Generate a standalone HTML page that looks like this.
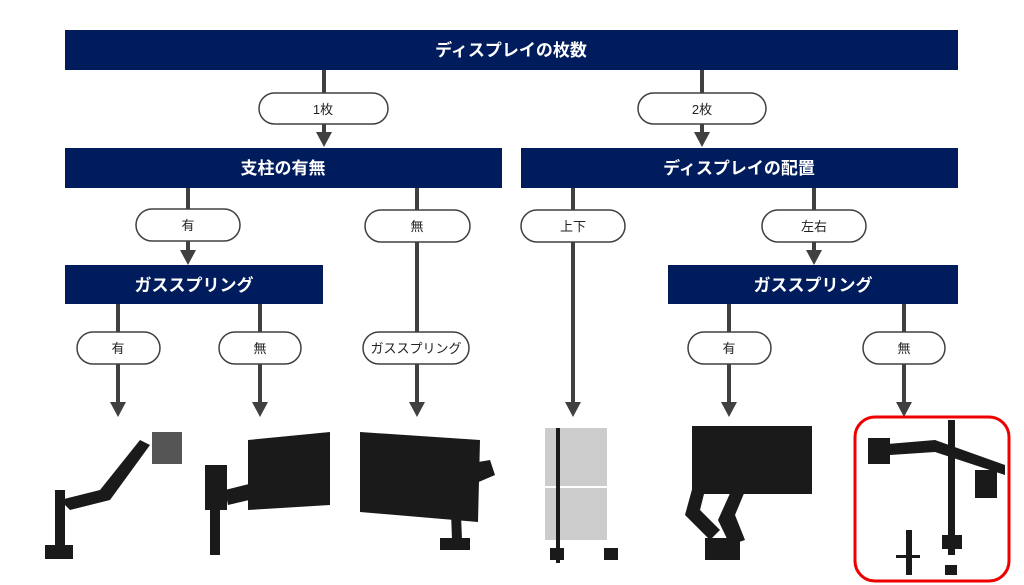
<!DOCTYPE html><html><head><meta charset="utf-8"><style>body{margin:0;background:#fff}svg{display:block}text{font-family:"Liberation Sans","Noto Sans CJK JP",sans-serif}</style></head><body>
<svg width="1024" height="585" viewBox="0 0 1024 585">
<g stroke="#404040" stroke-width="4" fill="none">
<line x1="324" y1="70" x2="324" y2="134"/>
<line x1="702" y1="70" x2="702" y2="134"/>
<line x1="188" y1="188" x2="188" y2="251"/>
<line x1="417" y1="188" x2="417" y2="404"/>
<line x1="573" y1="188" x2="573" y2="404"/>
<line x1="814" y1="188" x2="814" y2="251"/>
<line x1="118" y1="304" x2="118" y2="404"/>
<line x1="260" y1="304" x2="260" y2="404"/>
<line x1="729" y1="304" x2="729" y2="404"/>
<line x1="904" y1="304" x2="904" y2="404"/>
</g>
<g fill="#404040">
<path d="M316 132H332L324 147Z"/><path d="M694 132H710L702 147Z"/>
<path d="M180 250H196L188 265Z"/><path d="M806 250H822L814 265Z"/>
<path d="M409 402H425L417 417Z"/><path d="M565 402H581L573 417Z"/>
<path d="M110 402H126L118 417Z"/><path d="M252 402H268L260 417Z"/>
<path d="M721 402H737L729 417Z"/><path d="M896 402H912L904 417Z"/>
</g>
<g fill="#001c5c">
<rect x="65" y="30" width="893" height="40"/>
<rect x="65" y="148" width="437" height="40"/>
<rect x="521" y="148" width="437" height="40"/>
<rect x="65" y="265" width="258" height="39"/>
<rect x="668" y="265" width="290" height="39"/>
</g>
<g fill="#fff" font-weight="bold" font-size="17" text-anchor="middle">
<text x="511" y="56">ディスプレイの枚数</text>
<text x="283" y="174">支柱の有無</text>
<text x="739" y="174">ディスプレイの配置</text>
<text x="194" y="291">ガススプリング</text>
<text x="813" y="291">ガススプリング</text>
</g>
<g fill="#fff" stroke="#404040" stroke-width="1.5">
<rect x="259" y="93" width="129" height="31" rx="15.5"/>
<rect x="638" y="93" width="128" height="31" rx="15.5"/>
<rect x="136" y="209" width="104" height="32" rx="16"/>
<rect x="365" y="210" width="105" height="32" rx="16"/>
<rect x="521" y="210" width="104" height="32" rx="16"/>
<rect x="762" y="210" width="104" height="32" rx="16"/>
<rect x="77" y="332" width="83" height="32" rx="16"/>
<rect x="219" y="332" width="82" height="32" rx="16"/>
<rect x="363" y="332" width="106" height="32" rx="16"/>
<rect x="688" y="332" width="83" height="32" rx="16"/>
<rect x="863" y="332" width="82" height="32" rx="16"/>
</g>
<g fill="#222" font-size="13" text-anchor="middle">
<text x="323" y="114">1枚</text><text x="702" y="114">2枚</text>
<text x="188" y="230">有</text><text x="417" y="231">無</text>
<text x="573" y="231">上下</text><text x="814" y="231">左右</text>
<text x="118" y="353">有</text><text x="260" y="353">無</text>
<text x="416" y="353">ガススプリング</text>
<text x="729" y="353">有</text><text x="904" y="353">無</text>
</g>
<g fill="#1a1a1a" stroke="none">
<rect x="152" y="432" width="30" height="32" fill="#555"/>
<path d="M60 500 L100 490 L140 440 L150 445 L110 500 L70 510Z"/>
<rect x="55" y="490" width="10" height="60"/><rect x="45" y="545" width="28" height="14"/>
<path d="M248 440 L330 432 L330 505 L248 510Z"/>
<rect x="205" y="465" width="22" height="45"/><path d="M225 490 L265 480 L270 495 L228 505Z"/><rect x="210" y="510" width="10" height="45"/>
<path d="M360 432 L480 440 L478 522 L360 512Z"/>
<path d="M430 470 L490 460 L495 475 L460 490 L462 540 L452 540 L450 485 L432 485Z"/><rect x="440" y="538" width="30" height="12"/>
<rect x="545" y="428" width="62" height="58" fill="#ccc"/><rect x="545" y="488" width="62" height="52" fill="#ccc"/>
<rect x="556" y="428" width="4" height="135"/><rect x="550" y="548" width="14" height="12"/><rect x="604" y="548" width="14" height="12"/>
<rect x="692" y="426" width="120" height="68"/>
<path d="M700 460 L715 450 L700 510 L720 530 L710 540 L685 515Z"/><path d="M745 460 L760 455 L735 515 L745 540 L730 545 L718 520Z"/><rect x="705" y="538" width="35" height="22"/>
<rect x="948" y="420" width="7" height="135"/>
<path d="M875 445 L935 440 L1005 465 L1005 475 L935 452 L890 455Z"/><rect x="868" y="438" width="22" height="26"/><rect x="975" y="470" width="22" height="28"/>
<rect x="942" y="535" width="20" height="14"/><rect x="906" y="530" width="6" height="45"/><rect x="896" y="555" width="24" height="3"/><rect x="945" y="565" width="12" height="10"/>
</g>
<rect x="855" y="417" width="154" height="164" rx="20" fill="none" stroke="#e00" stroke-width="3"/>
</svg></body></html>
